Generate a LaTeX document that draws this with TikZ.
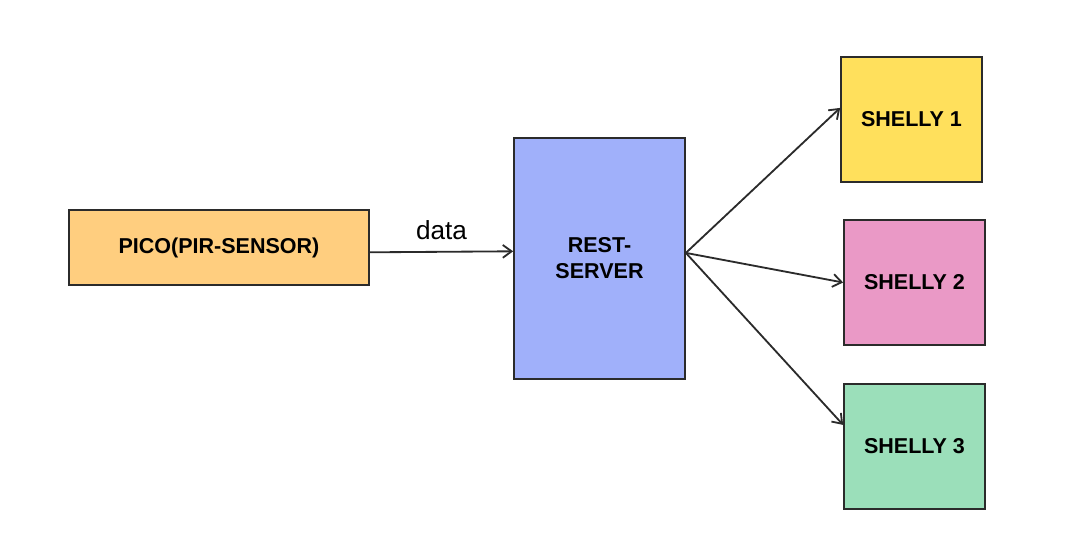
\documentclass[tikz,border=0pt]{standalone}
\usepackage{fontspec}
\setmainfont{Liberation Sans}
\usetikzlibrary{arrows.meta}
\definecolor{picofill}{HTML}{FFCE7F}
\definecolor{restfill}{HTML}{A0B0FA}
\definecolor{shellyA}{HTML}{FFE05C}
\definecolor{shellyB}{HTML}{EA99C6}
\definecolor{shellyC}{HTML}{9BDFBA}
\definecolor{edge}{HTML}{2B2B2B}
\begin{document}
\begin{tikzpicture}[x=0.025cm,y=-0.025cm,
  box/.style={draw=edge,line width=1.2pt,align=center,font=\fontsize{15.3}{18.4}\selectfont\bfseries},
  shellybox/.style={box,minimum width=3.525cm,minimum height=3.125cm},
  link/.style={draw=edge,line width=1.3pt,-{Straight Barb[length=2.2mm,width=3.2mm]}}]
\useasboundingbox (0,0) rectangle (1069,545);
\node[box,fill=picofill,minimum width=7.5cm,minimum height=1.875cm] (pico) at (219,247.5) {PICO(PIR-SENSOR)};
\node[box,fill=restfill,minimum width=4.275cm,minimum height=6.025cm] (rest) at (599.5,258.5) {REST-\\SERVER};
\node[shellybox,fill=shellyA] (shelly1) at (911.5,119.5) {SHELLY 1};
\node[shellybox,fill=shellyB] (shelly2) at (914.5,282.5) {SHELLY 2};
\node[shellybox,fill=shellyC] (shelly3) at (914.5,446.5) {SHELLY 3};
\coordinate (hub) at ([yshift=0.14cm]rest.east);
\draw[link] ([yshift=-0.12cm]pico.east) -- node[midway,above=4.5pt,font=\fontsize{18.6}{22}\selectfont] {data} ([yshift=0.18cm]rest.west);
\draw[link] (hub) -- ([yshift=0.29cm]shelly1.west);
\draw[link] (hub) -- (shelly2.west);
\draw[link] (hub) -- ([yshift=0.54cm]shelly3.west);
\end{tikzpicture}
\end{document}
